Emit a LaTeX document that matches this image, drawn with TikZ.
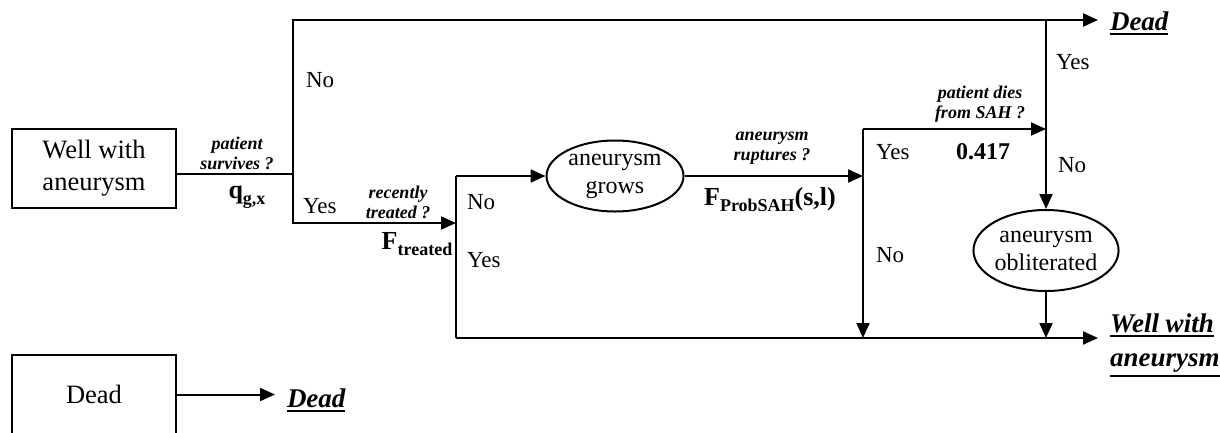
\documentclass[tikz,border=0pt]{standalone}
\usepackage{fontspec}
\setmainfont{Liberation Serif}
\usetikzlibrary{arrows.meta,shapes.geometric}
\newcommand{\ulab}[1]{\vtop{\hbox{#1}\kern2pt\hrule height 2pt}}
\newcommand{\lowsub}[1]{\raisebox{-6pt}{\fontsize{18}{20}\selectfont #1}}
\begin{document}
\begin{tikzpicture}[x=1pt, y=-1pt, >={Triangle[length=15pt,width=13pt]}, line width=2pt,
	every node/.style={font=\fontsize{23}{28}\selectfont, inner sep=0pt},
	state/.style={draw, rectangle, minimum width=164pt, minimum height=79pt, align=center, font=\fontsize{26.5}{32}\selectfont},
	event/.style={draw, ellipse, align=center, font=\fontsize{24}{28}\selectfont},
	quest/.style={font=\fontsize{18}{20}\selectfont\bfseries\itshape, align=center},
	prob/.style={font=\fontsize{26}{31}\selectfont\bfseries},
	outcome/.style={font=\fontsize{27}{34}\selectfont\bfseries\itshape, align=left, anchor=west, outer xsep=12pt, outer ysep=0pt}]
	\useasboundingbox (0,0) rectangle (1220,432);
	\node[state] (well) at (94,168.5) {Well with\\aneurysm};
	\node[state] (dead) at (94,394.5) {Dead};
	\node[event, minimum width=137pt, minimum height=71pt] (grows) at (615,176) {aneurysm\\grows};
	\node[event, minimum width=142pt, minimum height=81pt] (oblit) at (1046,250.5) {aneurysm\\obliterated};
	\node[outcome] (deadA) at (1098,23) {\ulab{Dead}};
	\node[outcome, anchor=north west] (wellB) at (1098,314) {\ulab{Well with}\\\ulab{aneurysm}};
	\node[outcome] (deadB) at (275,400) {\ulab{Dead}};
	\coordinate (s1) at (293,174);
	\coordinate (s1top) at (293,20);
	\coordinate (s1bot) at (293,223);
	\coordinate (s2) at (456,223);
	\coordinate (s2top) at (456,176);
	\coordinate (s2bot) at (456,338);
	\coordinate (s3) at (863,176);
	\coordinate (s3top) at (863,129);
	\coordinate (s3bot) at (863,338);
	\coordinate (s4) at (1046,129);
	\coordinate (s4top) at (1046,20);
	\draw (well.east |- s1) -- (s1);
	\draw[->] (s1) -- (s1top) -- (s1top -| deadA.west);
	\draw[->] (s1) -- (s1bot) -- (s2);
	\draw (s2top) -- (s2bot);
	\draw[->] (s2top) -- (grows.west);
	\draw[->] (grows.east) -- (s3);
	\draw (s3top) -- (s3);
	\draw[->] (s3) -- (s3bot);
	\draw[->] (s3top) -- (s4);
	\draw[->] (s4top) -- (oblit.north);
	\draw[->] (oblit.south) -- (oblit.south |- s2bot);
	\draw[->] (s2bot) -- (s2bot -| wellB.west);
	\draw[->] (dead.east) -- (dead.east -| deadB.west);
	\node[anchor=west] (no1) at (305,80) {No};
	\node[anchor=west] (yes1) at (302,206) {Yes};
	\node[anchor=west] (no2) at (466,202) {No};
	\node[anchor=west] (yes2) at (466,260) {Yes};
	\node[anchor=west] (yes3) at (875,152) {Yes};
	\node[anchor=west] (no4) at (875,255) {No};
	\node[anchor=west] (yes4) at (1055,62) {Yes};
	\node[anchor=west] (no3) at (1057,165) {No};
	\node[quest] (qsurv) at (237,153) {patient\\survives ?};
	\node[quest] (qtreat) at (398,202) {recently\\treated ?};
	\node[quest] (qrupt) at (772,148) {aneurysm\\ruptures ?};
	\node[quest] (qdies) at (980,104) {patient dies\\from SAH ?};
	\node[prob] (pgx) at (247,197) {q\lowsub{g,x}};
	\node[prob] (ptreat) at (417,244) {F\lowsub{treated}};
	\node[prob] (psah) at (770,200) {F\lowsub{ProbSAH}(s,l)};
	\node[prob, font=\fontsize{24}{28}\selectfont\bfseries] (pdies) at (983,152) {0.417};
\end{tikzpicture}
\end{document}
